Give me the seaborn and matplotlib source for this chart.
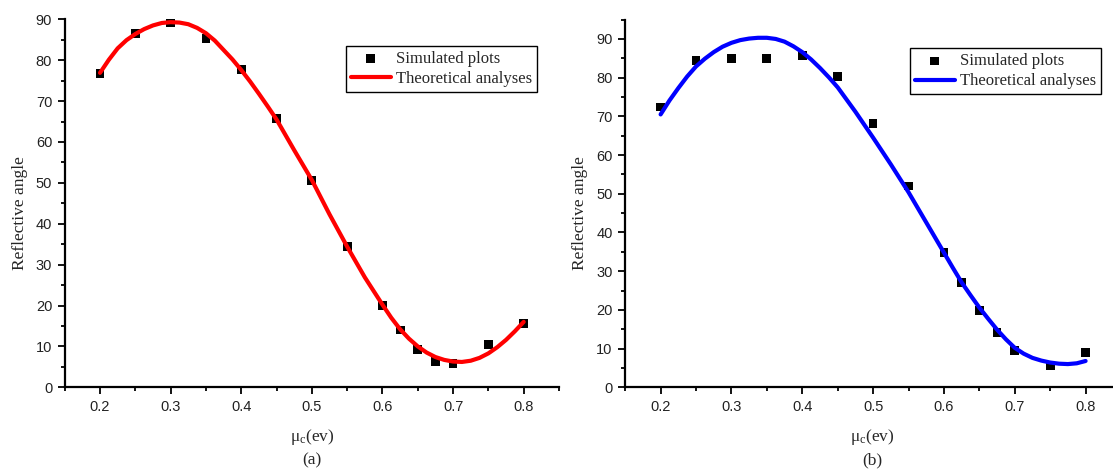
import matplotlib
matplotlib.use('Agg')
import matplotlib.pyplot as plt
import seaborn as sns
import pandas as pd
from matplotlib.ticker import MultipleLocator, FixedLocator

# simulated points (same x grid for both panels)
x_sim = [0.2, 0.25, 0.3, 0.35, 0.4, 0.45, 0.5, 0.55, 0.6, 0.625, 0.65, 0.675, 0.7, 0.75, 0.8]
y_sim_a = [76.7, 86.5, 89.2, 85.4, 77.8, 65.7, 50.6, 34.4, 20.0, 14.0, 9.2, 6.3, 5.9, 10.5, 15.6]
y_sim_b = [72.4, 84.4, 85.0, 85.0, 85.7, 80.3, 68.2, 52.0, 34.8, 27.0, 19.9, 14.1, 9.5, 5.5, 8.9]

# theoretical curves
x_theo = [0.2, 0.2125, 0.225, 0.2375, 0.25, 0.2625, 0.275, 0.2875, 0.3, 0.3125, 0.325,
          0.3375, 0.35, 0.3625, 0.375, 0.3875, 0.4, 0.4125, 0.425, 0.4375, 0.45, 0.475,
          0.5, 0.525, 0.55, 0.575, 0.6, 0.6125, 0.625, 0.6375, 0.65, 0.6625, 0.675, 0.6875,
          0.7, 0.7125, 0.725, 0.7375, 0.75, 0.7625, 0.775, 0.7875, 0.8]
y_theo_a = [76.9, 80.1, 82.9, 84.9, 86.4, 87.6, 88.5, 89.1, 89.3, 89.2, 88.8, 87.9, 86.6,
            84.8, 82.5, 80.2, 77.6, 74.8, 71.8, 68.7, 65.5, 58.0, 50.7, 42.3, 34.4, 26.9,
            20.2, 17.0, 14.2, 11.9, 10.0, 8.5, 7.4, 6.7, 6.3, 6.2, 6.5, 7.2, 8.3, 9.8, 11.6,
            13.7, 16.0]
y_theo_b = [70.5, 74.1, 77.3, 80.3, 82.9, 84.9, 86.6, 88.0, 89.0, 89.7, 90.1, 90.3, 90.3,
            90.0, 89.3, 88.1, 86.6, 84.7, 82.5, 80.1, 77.5, 71.2, 64.5, 57.6, 50.4, 42.6,
            34.8, 30.9, 27.1, 23.8, 20.6, 17.7, 14.9, 12.4, 10.2, 8.7, 7.6, 6.9, 6.4, 6.1,
            6.0, 6.2, 6.8]

x_ticks = [0.2, 0.3, 0.4, 0.5, 0.6, 0.7, 0.8]
y_ticks = [0, 10, 20, 30, 40, 50, 60, 70, 80, 90]

sns.set_style('ticks')
plt.rcParams['font.family'] = ['Liberation Sans', 'DejaVu Sans']
plt.rcParams['mathtext.fontset'] = 'custom'
plt.rcParams['mathtext.rm'] = 'Liberation Serif'
plt.rcParams['mathtext.it'] = 'Liberation Serif'

W, H = 1113, 470
fig = plt.figure(figsize=(W / 100, H / 100), dpi=100)

serif = ['Liberation Serif', 'DejaVu Serif']

paneles = [
    dict(x0=64.7, x1=559.0, ytop=19.3, ymax=90, y_sim=y_sim_a, y_theo=y_theo_a,
         color='#ff0000', leg=(345.7, 45.7), ylab_x=19.6, xlab_x=311.8, tag='(a)'),
    dict(x0=625.2, x1=1121.0, ytop=19.6, ymax=95, y_sim=y_sim_b, y_theo=y_theo_b,
         color='#0000ff', leg=(909.6, 48.3), ylab_x=580.0, xlab_x=872.5, tag='(b)'),
]

y0 = 387.3
for p in paneles:
    ax = fig.add_axes([p['x0'] / W, (H - y0) / H, (p['x1'] - p['x0']) / W, (y0 - p['ytop']) / H])
    sim = pd.DataFrame({'x': x_sim, 'y': p['y_sim']})
    theo = pd.DataFrame({'x': x_theo, 'y': p['y_theo']})
    sns.scatterplot(data=sim, x='x', y='y', ax=ax, marker='s', s=40, color='black',
                    edgecolor='none', label='Simulated plots', zorder=2)
    sns.lineplot(data=theo, x='x', y='y', ax=ax, color=p['color'], linewidth=3.0,
                 label='Theoretical analyses', zorder=3)
    ax.lines[-1].set_solid_joinstyle('round')
    ax.lines[-1].set_solid_capstyle('round')
    ax.set_xlim(0.15, 0.85)
    ax.set_ylim(0, p['ymax'])
    ax.xaxis.set_major_locator(FixedLocator(x_ticks))
    ax.xaxis.set_minor_locator(FixedLocator([0.15, 0.25, 0.35, 0.45, 0.55, 0.65, 0.75, 0.85]))
    ax.yaxis.set_major_locator(FixedLocator(y_ticks))
    ax.yaxis.set_minor_locator(MultipleLocator(5))
    ax.set_xticklabels(['%.1f' % v for v in x_ticks])
    ax.set_xlabel('')
    ax.set_ylabel('')
    for s in ['top', 'right']:
        ax.spines[s].set_visible(False)
    for s in ['left', 'bottom']:
        ax.spines[s].set_linewidth(1.6)
        ax.spines[s].set_color('black')
    ax.tick_params(which='major', direction='out', length=5, width=1.3, colors='black',
                   labelsize=10.5, pad=4)
    ax.tick_params(which='minor', direction='out', length=3, width=1.3, colors='black')
    for lab in ax.get_xticklabels() + ax.get_yticklabels():
        lab.set_color('#222222')

    leg = ax.legend(loc='upper left', bbox_to_anchor=(p['leg'][0] / W, 1 - p['leg'][1] / H),
                    bbox_transform=fig.transFigure, borderaxespad=0, frameon=True,
                    fancybox=False, framealpha=1, edgecolor='black',
                    prop={'family': serif, 'size': 12}, handlelength=2.4,
                    handletextpad=0.3, labelspacing=0.25, borderpad=0.3, markerscale=1.0)
    leg.get_frame().set_linewidth(1.0)

    fig.text(p['ylab_x'] / W, 1 - (y0 - (y0 - p['ytop']) / 2 + 10) / H, 'Reflective angle',
             rotation=90, ha='center', va='center', family=serif, fontsize=12.5)
    fig.text(p['xlab_x'] / W, 1 - 437 / H, 'μ$_\\mathrm{c}$(ev)', ha='center', va='center',
             family=serif, fontsize=12.5)
    fig.text(p['xlab_x'] / W, 1 - 460.5 / H, p['tag'], ha='center', va='center',
             family=serif, fontsize=12.5)

fig.savefig('out.png', dpi=100)
